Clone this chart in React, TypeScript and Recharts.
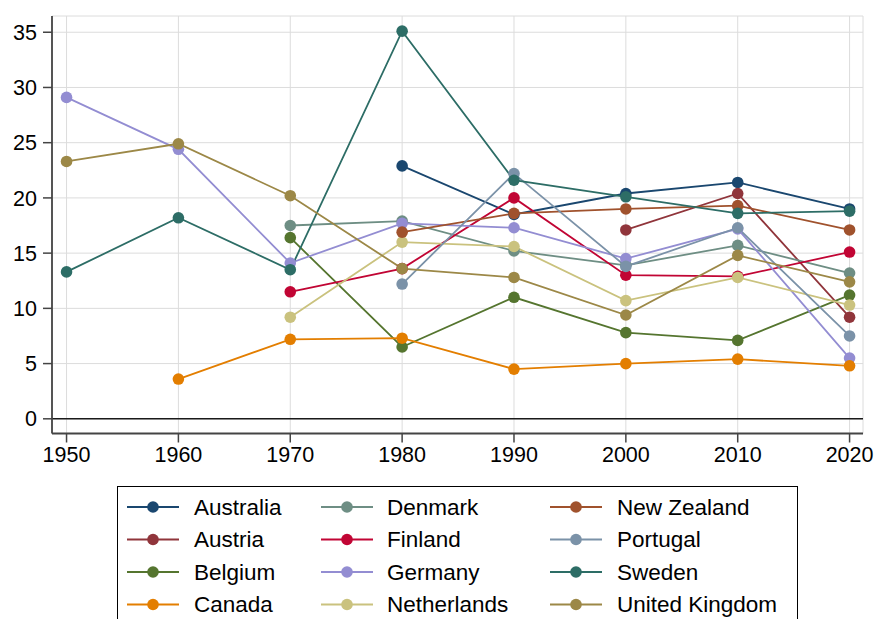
import React from 'react';
import { LineChart, Line, XAxis, YAxis, CartesianGrid, ReferenceLine } from 'recharts';

const years = [1950, 1960, 1970, 1980, 1990, 2000, 2010, 2020];
const yTicks = [0, 5, 10, 15, 20, 25, 30, 35];

const australia = [null, null, null, 22.9, 18.5, 20.4, 21.4, 19.0];
const austria = [null, null, null, null, null, 17.1, 20.4, 9.2];
const belgium = [null, null, 16.4, 6.5, 11.0, 7.8, 7.1, 11.2];
const canada = [null, 3.6, 7.2, 7.3, 4.5, 5.0, 5.4, 4.8];
const denmark = [null, null, 17.5, 17.9, 15.2, 13.9, 15.7, 13.2];
const finland = [null, null, 11.5, 13.6, 20.0, 13.0, 12.9, 15.1];
const germany = [29.1, 24.4, 14.1, 17.7, 17.3, 14.5, 17.2, 5.5];
const netherlands = [null, null, 9.2, 16.0, 15.6, 10.7, 12.8, 10.3];
const newZealand = [null, null, null, 16.9, 18.6, 19.0, 19.3, 17.1];
const portugal = [null, null, null, 12.2, 22.2, 13.8, 17.3, 7.5];
const sweden = [13.3, 18.2, 13.5, 35.1, 21.6, 20.1, 18.6, 18.8];
const unitedKingdom = [23.3, 24.9, 20.2, 13.6, 12.8, 9.4, 14.8, 12.4];

const seriesNames = [
  'Australia', 'Austria', 'Belgium', 'Canada', 'Denmark', 'Finland',
  'Germany', 'Netherlands', 'New Zealand', 'Portugal', 'Sweden', 'United Kingdom',
];
const seriesValues = [
  australia, austria, belgium, canada, denmark, finland,
  germany, netherlands, newZealand, portugal, sweden, unitedKingdom,
];
const seriesColors = [
  '#1a476f', '#90353b', '#55752f', '#e37e00', '#6e8e84', '#c10534',
  '#938dd2', '#cac27e', '#a0522d', '#7b92a8', '#2d6d66', '#9c8847',
];
// drawing order (Canada on top, as in the reference)
const drawOrder = [0, 1, 2, 4, 5, 6, 7, 8, 9, 10, 11, 3];

const data = years.map((year, i) => {
  const row: Record<string, number | null> = { year };
  seriesNames.forEach((name, s) => {
    row[name] = seriesValues[s][i];
  });
  return row;
});

const FONT = '"Liberation Sans", Arial, Helvetica, sans-serif';

const legendColumns = [
  { lineX: 127, textX: 194 },
  { lineX: 321, textX: 387 },
  { lineX: 550, textX: 617 },
];
const legendRowY = [507, 539.5, 572, 604.5];

function LegendBox() {
  return (
    <svg width={875} height={619} style={{ position: 'absolute', left: 0, top: 0, pointerEvents: 'none' }}>
      <rect x={117.5} y={486.5} width={680} height={160} fill="#fff" stroke="#000" strokeWidth={1} />
      {seriesNames.map((name, i) => {
        const col = legendColumns[Math.floor(i / 4)];
        const y = legendRowY[i % 4];
        return (
          <g key={name}>
            <line x1={col.lineX} x2={col.lineX + 52} y1={y} y2={y} stroke={seriesColors[i]} strokeWidth={1.8} />
            <circle cx={col.lineX + 26} cy={y} r={5.8} fill={seriesColors[i]} />
            <text x={col.textX} y={y} dy="0.355em" fontSize={22.5} fontFamily={FONT} fill="#000">
              {name}
            </text>
          </g>
        );
      })}
    </svg>
  );
}

export default function App() {
  return (
    <div style={{ position: 'absolute', left: 0, top: 0, width: 875, height: 619, overflow: 'hidden', background: '#fff' }}>
      <LineChart
        width={875}
        height={619}
        data={data}
        margin={{ top: 16, right: 12, left: 0, bottom: 145.5 }}
      >
        <CartesianGrid stroke="#dcdcdc" strokeWidth={1} vertical horizontal />
        <XAxis
          dataKey="year"
          type="number"
          domain={[1948.7, 2021.2]}
          ticks={years}
          allowDataOverflow
          height={40}
          tickSize={9}
          tickMargin={4.5}
          tick={{ fontSize: 21.5, fill: '#000', fontFamily: FONT }}
          tickLine={{ stroke: '#444', strokeWidth: 1.5 }}
          axisLine={{ stroke: '#444', strokeWidth: 1.8 }}
        />
        <YAxis
          type="number"
          domain={[-1.33, 36.47]}
          ticks={yTicks}
          allowDataOverflow
          width={52}
          tickSize={9}
          tickMargin={6}
          tick={{ fontSize: 21.5, fill: '#000', fontFamily: FONT }}
          tickLine={{ stroke: '#444', strokeWidth: 1.5 }}
          axisLine={{ stroke: '#444', strokeWidth: 1.8 }}
        />
        <ReferenceLine y={0} stroke="#1a1a1a" strokeWidth={1.6} ifOverflow="hidden" />
        {drawOrder.map((i) => (
          <Line
            key={seriesNames[i]}
            dataKey={seriesNames[i]}
            type="linear"
            stroke={seriesColors[i]}
            strokeWidth={1.8}
            dot={{ r: 5.8, fill: seriesColors[i], stroke: seriesColors[i], strokeWidth: 0 }}
            activeDot={false}
            isAnimationActive={false}
          />
        ))}
      </LineChart>
      <LegendBox />
    </div>
  );
}
